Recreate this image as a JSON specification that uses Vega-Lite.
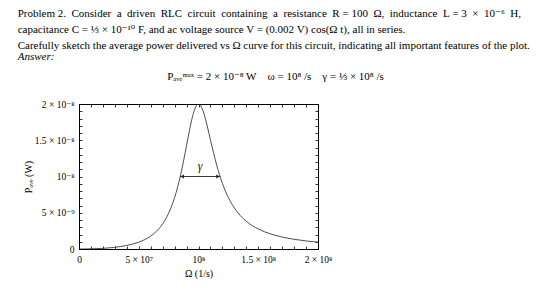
{
  "$schema": "https://vega.github.io/schema/vega-lite/v6.json",
  "padding": {"left": 17, "top": 7, "right": 5, "bottom": 2},
  "background": "white",
  "title": {
    "text": [
      "Problem 2.\u2002Consider\u2002a\u2002driven\u2002RLC\u2002circuit\u2002containing\u2002a\u2002resistance\u2002R\u00A0=\u00A0100\u2002Ω,\u2002inductance\u2002L\u00A0=\u00A03\u2002×\u200210⁻⁶\u2002H,",
      "capacitance C = ⅓ × 10⁻¹⁰ F, and ac voltage source V = (0.002 V) cos(Ω t), all in series.",
      "Carefully sketch the average power delivered vs Ω curve for this circuit, indicating all important features of the plot."
    ],
    "subtitle": "Answer:",
    "anchor": "start",
    "frame": "bounds",
    "dx": -5,
    "font": "Liberation Serif, DejaVu Serif",
    "fontSize": 11,
    "fontWeight": "normal",
    "color": "black",
    "lineHeight": 16,
    "subtitleFont": "Liberation Serif, DejaVu Serif",
    "subtitleFontSize": 11,
    "subtitleFontStyle": "italic",
    "subtitleColor": "black",
    "subtitlePadding": 0,
    "offset": 9
  },
  "config": {
    "font": "Liberation Serif, DejaVu Serif",
    "view": {"stroke": "black", "strokeWidth": 1},
    "axis": {
      "grid": false,
      "domainColor": "black",
      "domainWidth": 1,
      "tickColor": "black",
      "tickSize": -3,
      "tickWidth": 0.8,
      "labelFont": "Liberation Serif, DejaVu Serif",
      "labelFontSize": 9.5,
      "labelColor": "black",
      "labelFlush": false,
      "labelOverlap": false,
      "titleFont": "Liberation Serif, DejaVu Serif",
      "titleFontSize": 10,
      "titleFontWeight": "normal",
      "titleColor": "black"
    }
  },
  "vconcat": [
    {
      "title": {
        "text": "Pₐᵥₑᵐᵃˣ = 2 × 10⁻⁸ W\u2003ω = 10⁸ /s\u2003γ = ⅓ × 10⁸ /s",
        "anchor": "middle",
        "frame": "group",
        "dx": 77,
        "font": "Liberation Serif, DejaVu Serif",
        "fontSize": 11,
        "fontWeight": "normal",
        "color": "black",
        "offset": 17
      },
      "width": 239,
      "height": 145,
      "resolve": {"axis": {"x": "independent", "y": "independent"}},
      "layer": [
        {
          "data": {
            "values": [
              {"Omega": 0, "P": 0},
              {"Omega": 5000000, "P": 5.58e-12},
              {"Omega": 10000000, "P": 2.265e-11},
              {"Omega": 15000000, "P": 5.22e-11},
              {"Omega": 20000000, "P": 9.6e-11},
              {"Omega": 25000000, "P": 1.567e-10},
              {"Omega": 30000000, "P": 2.386e-10},
              {"Omega": 35000000, "P": 3.474e-10},
              {"Omega": 40000000, "P": 4.916e-10},
              {"Omega": 45000000, "P": 6.833e-10},
              {"Omega": 50000000, "P": 9.412e-10},
              {"Omega": 55000000, "P": 1.293e-9},
              {"Omega": 60000000, "P": 1.779e-9},
              {"Omega": 65000000, "P": 2.467e-9},
              {"Omega": 70000000, "P": 3.462e-9},
              {"Omega": 75000000, "P": 4.923e-9},
              {"Omega": 77500000, "P": 5.9e-9},
              {"Omega": 80000000, "P": 7.086e-9},
              {"Omega": 82500000, "P": 8.515e-9},
              {"Omega": 85000000, "P": 1.0208e-8},
              {"Omega": 87500000, "P": 1.2153e-8},
              {"Omega": 90000000, "P": 1.4275e-8},
              {"Omega": 92500000, "P": 1.6404e-8},
              {"Omega": 95000000, "P": 1.8268e-8},
              {"Omega": 97500000, "P": 1.9549e-8},
              {"Omega": 98750000, "P": 1.9887e-8},
              {"Omega": 100000000, "P": 2e-8},
              {"Omega": 101250000, "P": 1.989e-8},
              {"Omega": 102500000, "P": 1.957e-8},
              {"Omega": 105000000, "P": 1.842e-8},
              {"Omega": 107500000, "P": 1.6826e-8},
              {"Omega": 110000000, "P": 1.506e-8},
              {"Omega": 112500000, "P": 1.3318e-8},
              {"Omega": 115000000, "P": 1.1711e-8},
              {"Omega": 117500000, "P": 1.0286e-8},
              {"Omega": 120000000, "P": 9.05e-9},
              {"Omega": 122500000, "P": 7.99e-9},
              {"Omega": 125000000, "P": 7.086e-9},
              {"Omega": 127500000, "P": 6.315e-9},
              {"Omega": 130000000, "P": 5.657e-9},
              {"Omega": 135000000, "P": 4.607e-9},
              {"Omega": 140000000, "P": 3.823e-9},
              {"Omega": 145000000, "P": 3.224e-9},
              {"Omega": 150000000, "P": 2.759e-9},
              {"Omega": 160000000, "P": 2.093e-9},
              {"Omega": 170000000, "P": 1.65e-9},
              {"Omega": 180000000, "P": 1.339e-9},
              {"Omega": 190000000, "P": 1.112e-9},
              {"Omega": 200000000, "P": 9.41e-10}
            ]
          },
          "mark": {"type": "line", "color": "#222", "strokeWidth": 0.8, "interpolate": "monotone", "clip": true},
          "encoding": {
            "x": {
              "field": "Omega", "type": "quantitative",
              "scale": {"domain": [0, 200000000], "nice": false, "zero": true},
              "axis": {
                "orient": "bottom",
                "title": "Ω (1/s)",
                "titlePadding": 5,
                "labelPadding": 8,
                "values": [0, 10000000, 20000000, 30000000, 40000000, 50000000, 60000000, 70000000, 80000000, 90000000, 100000000, 110000000, 120000000, 130000000, 140000000, 150000000, 160000000, 170000000, 180000000, 190000000, 200000000],
                "labelExpr": "datum.value == 0 ? '0' : datum.value == 50000000 ? '5 × 10⁷' : datum.value == 100000000 ? '10⁸' : datum.value == 150000000 ? '1.5 × 10⁸' : datum.value == 200000000 ? '2 × 10⁸' : ''"
              }
            },
            "y": {
              "field": "P", "type": "quantitative",
              "scale": {"domain": [0, 2e-8], "nice": false, "zero": true},
              "axis": {
                "orient": "left",
                "title": "Pₐᵥₑ (W)",
                "titlePadding": 1,
                "labelPadding": 8,
                "values": [0, 1e-9, 2e-9, 3e-9, 4e-9, 5e-9, 6e-9, 7e-9, 8e-9, 9e-9, 1e-8, 1.1e-8, 1.2e-8, 1.3e-8, 1.4e-8, 1.5e-8, 1.6e-8, 1.7e-8, 1.8e-8, 1.9e-8, 2e-8],
                "labelExpr": "datum.value == 0 ? '0' : abs(datum.value - 5e-9) < 1e-12 ? '5 × 10⁻⁹' : abs(datum.value - 1e-8) < 1e-12 ? '10⁻⁸' : abs(datum.value - 1.5e-8) < 1e-12 ? '1.5 × 10⁻⁸' : abs(datum.value - 2e-8) < 1e-12 ? '2 × 10⁻⁸' : ''"
              }
            }
          }
        },
        {
          "data": {"values": [{"Omega_lo": 84710000, "Omega_hi": 118050000, "P_half": 1e-8}]},
          "mark": {"type": "rule", "color": "#222", "strokeWidth": 0.9},
          "encoding": {
            "x": {
              "field": "Omega_lo", "type": "quantitative",
              "scale": {"domain": [0, 200000000], "nice": false, "zero": true},
              "axis": {
                "orient": "top", "title": null, "labels": false,
                "values": [0, 10000000, 20000000, 30000000, 40000000, 50000000, 60000000, 70000000, 80000000, 90000000, 100000000, 110000000, 120000000, 130000000, 140000000, 150000000, 160000000, 170000000, 180000000, 190000000, 200000000]
              }
            },
            "x2": {"field": "Omega_hi"},
            "y": {
              "field": "P_half", "type": "quantitative",
              "scale": {"domain": [0, 2e-8], "nice": false, "zero": true},
              "axis": {
                "orient": "right", "title": null, "labels": false,
                "values": [0, 1e-9, 2e-9, 3e-9, 4e-9, 5e-9, 6e-9, 7e-9, 8e-9, 9e-9, 1e-8, 1.1e-8, 1.2e-8, 1.3e-8, 1.4e-8, 1.5e-8, 1.6e-8, 1.7e-8, 1.8e-8, 1.9e-8, 2e-8]
              }
            }
          }
        },
        {
          "data": {"values": [{"Omega_lo": 84710000, "Omega_hi": 118050000, "P_half": 1e-8}]},
          "mark": {"type": "point", "shape": "triangle-left", "filled": true, "color": "#222", "size": 18, "opacity": 1, "xOffset": 2},
          "encoding": {
            "x": {"field": "Omega_lo", "type": "quantitative", "axis": null},
            "y": {"field": "P_half", "type": "quantitative", "axis": null}
          }
        },
        {
          "data": {"values": [{"Omega_lo": 84710000, "Omega_hi": 118050000, "P_half": 1e-8}]},
          "mark": {"type": "point", "shape": "triangle-right", "filled": true, "color": "#222", "size": 18, "opacity": 1, "xOffset": -2},
          "encoding": {
            "x": {"field": "Omega_hi", "type": "quantitative", "axis": null},
            "y": {"field": "P_half", "type": "quantitative", "axis": null}
          }
        },
        {
          "data": {"values": [{"label": "γ", "Omega": 101300000, "P": 1.14e-8}]},
          "mark": {"type": "text", "font": "Liberation Serif, DejaVu Serif", "fontStyle": "italic", "fontSize": 12, "color": "#222"},
          "encoding": {
            "x": {"field": "Omega", "type": "quantitative", "axis": null},
            "y": {"field": "P", "type": "quantitative", "axis": null},
            "text": {"field": "label"}
          }
        }
      ]
    }
  ]
}
